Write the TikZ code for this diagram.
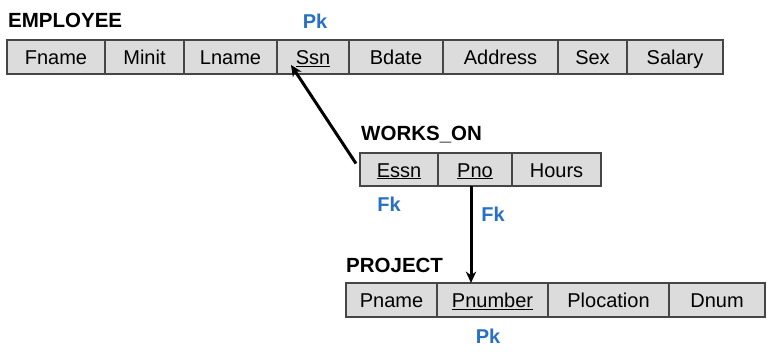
\documentclass[tikz,border=0pt]{standalone}
\usepackage{fontspec}
\setmainfont{Liberation Sans}
\usepackage{xcolor}
\usetikzlibrary{arrows.meta,positioning,calc}

\definecolor{pkblue}{RGB}{40,112,196}
\definecolor{cellgray}{RGB}{220,220,220}
\definecolor{edgegray}{RGB}{70,70,70}

\tikzset{
  attr/.style={draw=edgegray,fill=cellgray,line width=1.2pt,inner sep=0pt,outer sep=0pt,
    minimum height=34pt,text height=15pt,text depth=0pt,font=\fontsize{20}{22}\selectfont},
  relname/.style={anchor=west,inner sep=0pt,font=\fontsize{20.5}{22}\selectfont\bfseries},
  keylbl/.style={inner sep=0pt,text=pkblue,font=\fontsize{20}{22}\selectfont\bfseries},
  fkarrow/.style={line width=3pt,-{Stealth[length=4mm,width=3.6mm]}}
}

\begin{document}
\begin{tikzpicture}[x=1pt,y=-1pt]
  \useasboundingbox (0,0) rectangle (772,354);

  \node[relname] (emp) at (8,20) {EMPLOYEE};
  \node[attr,minimum width=98pt]  (fname)   at (56,57)    {Fname};
  \node[attr,minimum width=79pt]  (minit)   at (144.5,57) {Minit};
  \node[attr,minimum width=93pt]  (lname)   at (230.5,57) {Lname};
  \node[attr,minimum width=72pt]  (ssn)     at (313,57)   {\underline{Ssn}};
  \node[attr,minimum width=94pt]  (bdate)   at (396,57)   {Bdate};
  \node[attr,minimum width=115pt] (address) at (500.5,57) {Address};
  \node[attr,minimum width=69pt]  (sex)     at (592.5,57) {Sex};
  \node[attr,minimum width=96pt]  (salary)  at (675,57)   {Salary};
  \node[keylbl] (emppk) at (315,21) {Pk};

  \node[relname] (works) at (361,135) {WORKS\_ON};
  \node[attr,minimum width=78pt,minimum height=33pt] (essn)  at (399,169.5)   {\underline{Essn}};
  \node[attr,minimum width=74pt,minimum height=33pt] (pno)   at (475,169.5)   {\underline{Pno}};
  \node[attr,minimum width=89pt,minimum height=33pt] (hours) at (556.5,169.5) {Hours};
  \node[keylbl] (essnfk) at (389,204)   {Fk};
  \node[keylbl] (pnofk)  at (493,214.5) {Fk};

  \node[relname] (proj) at (346,265) {PROJECT};
  \node[attr,minimum width=91pt]  (pname)     at (391.5,300) {Pname};
  \node[attr,minimum width=111pt] (pnumber)   at (492.5,300) {\underline{Pnumber}};
  \node[attr,minimum width=121pt] (plocation) at (608.5,300) {Plocation};
  \node[attr,minimum width=96pt]  (dnum)      at (717,300)   {Dnum};
  \node[keylbl] (projpk) at (488,336) {Pk};

  \draw[fkarrow] ([shift={(-4,-6)}]essn.west) -- ([shift={(-22,-9)}]ssn.south);
  \draw[fkarrow] ([xshift=-4]pno.south) -- ([xshift=-21.5]pnumber.north);
\end{tikzpicture}
\end{document}
